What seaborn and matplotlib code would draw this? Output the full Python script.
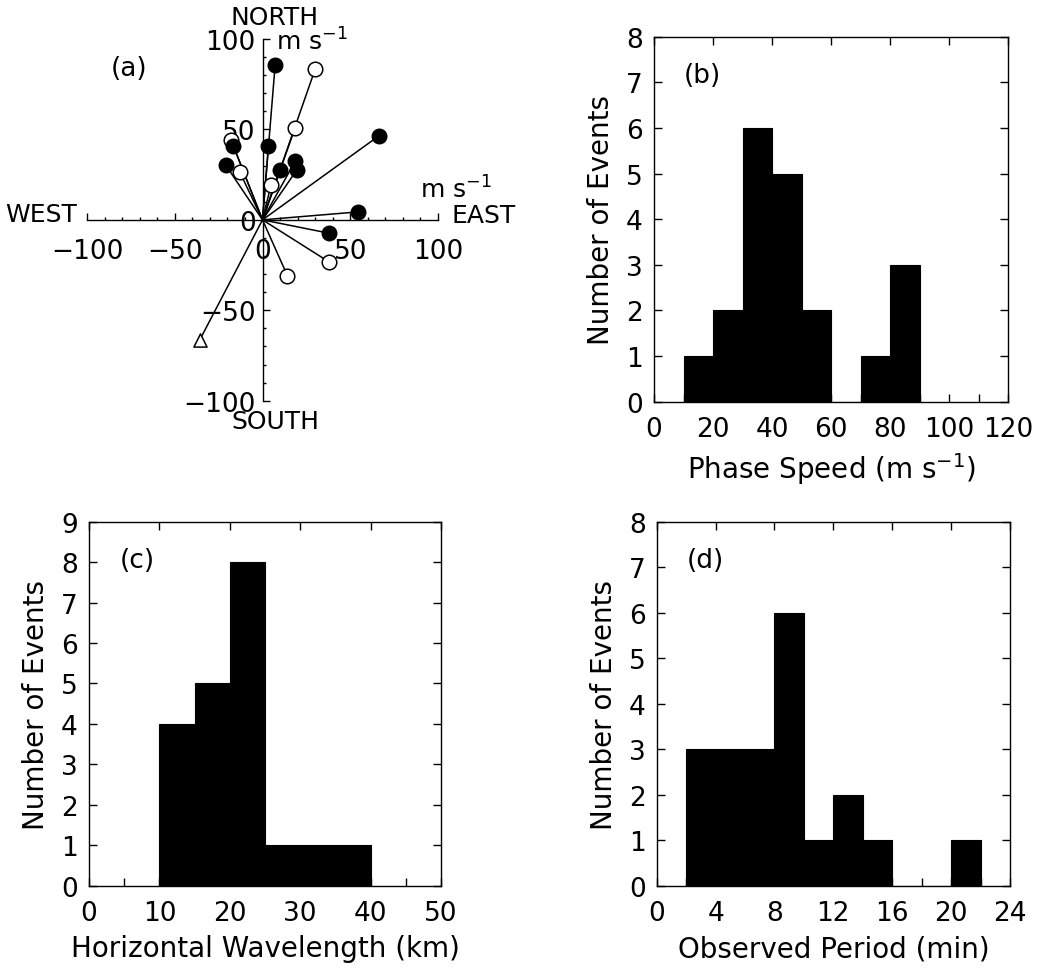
import numpy as np
import matplotlib
matplotlib.use("Agg")
import matplotlib.pyplot as plt
import seaborn as sns
from matplotlib.ticker import MultipleLocator

# panel (a): phase velocity vectors (east, north components, m/s)
filled_u = [7.2, 66.1, -16.7, 3.4, -20.9, 10.1, 18.6, 19.4, 54.5, 38.0]
filled_v = [85.6, 46.3, 41.1, 41.1, 30.2, 27.8, 32.4, 27.4, 4.4, -7.4]
open_u = [30.0, 18.6, -12.9, 4.8, 37.8, 14.2, -17.8]
open_v = [83.3, 51.0, 26.3, 19.0, -23.2, -30.9, 43.9]
tri_u = [-35.7]
tri_v = [-66.3]

# panel (b): phase speed histogram
speed_edges = [10, 20, 30, 40, 50, 60, 70, 80, 90]
speed_counts = [1, 2, 6, 5, 2, 0, 1, 3]

# panel (c): horizontal wavelength histogram
wave_edges = [10, 15, 20, 25, 30, 35, 40]
wave_counts = [4, 5, 8, 1, 1, 1]

# panel (d): observed period histogram
period_edges = [2, 4, 6, 8, 10, 12, 14, 16, 18, 20, 22]
period_counts = [3, 3, 3, 6, 1, 2, 1, 0, 0, 1]

sns.set_style("ticks")
plt.rcParams["font.family"] = ["DejaVu Sans"]
plt.rcParams["mathtext.default"] = "regular"
plt.rcParams["axes.linewidth"] = 1.0
for k in ["text.color", "axes.labelcolor", "xtick.color", "ytick.color", "axes.edgecolor"]:
    plt.rcParams[k] = "black"
TICK_FS = 19
LAB_FS = 20
TXT_FS = 18

W, H = 1038, 970
fig = plt.figure(figsize=(W / 100, H / 100), dpi=100)


def px_axes(left, right, top, bottom):
    return fig.add_axes([left / W, 1 - bottom / H, (right - left) / W, (bottom - top) / H])


# ---------- (a) vector plot ----------
ax = px_axes(87, 438, 40, 401.7)
ax.set_facecolor("white")
ax.set_xlim(-100, 100)
ax.set_ylim(-100, 100)
for s in ["top", "right"]:
    ax.spines[s].set_visible(False)
ax.spines["left"].set_position("zero")
ax.spines["bottom"].set_position("zero")
ax.set_xticks([-100, -50, 0, 50, 100])
ax.set_yticks([-100, -50, 0, 50, 100])
ax.xaxis.set_minor_locator(MultipleLocator(10))
ax.yaxis.set_minor_locator(MultipleLocator(10))
ax.tick_params(axis="both", which="major", direction="in", length=5, width=1,
               labelsize=TICK_FS)
ax.tick_params(axis="both", which="minor", direction="in", length=2.5, width=1)
ax.tick_params(axis="x", which="major", pad=13)
ax.tick_params(axis="y", which="major", pad=5)

for u, v in zip(filled_u + open_u + tri_u, filled_v + open_v + tri_v):
    ax.plot([0, u], [0, v], color="black", lw=1.1, zorder=2)

sns.scatterplot(x=open_u, y=open_v, ax=ax, marker="o", s=110, facecolor="white",
                edgecolor="black", linewidth=1.1, zorder=3)
sns.scatterplot(x=filled_u, y=filled_v, ax=ax, marker="o", s=110, color="black",
                edgecolor="black", linewidth=1, zorder=4)
sns.scatterplot(x=tri_u, y=tri_v, ax=ax, marker="^", s=90, facecolor="white",
                edgecolor="black", linewidth=1.1, zorder=3)

txt = dict(fontsize=TXT_FS, color="black", clip_on=False)
ax.text(7.1, 112.0, "NORTH", ha="center", va="center", **txt)
ax.text(7.1, -111.5, "SOUTH", ha="center", va="center", **txt)
ax.text(-105.5, 3.0, "WEST", ha="right", va="center", **txt)
ax.text(107.5, 2.5, "EAST", ha="left", va="center", **txt)
ax.text(7.8, 94.0, "m s$^{-1}$", ha="left", va="baseline", **txt)
ax.text(89.5, 12.5, "m s$^{-1}$", ha="left", va="baseline", **txt)
ax.text(-76, 84, "(a)", ha="center", va="center", fontsize=TICK_FS, clip_on=False)


# ---------- histograms ----------
def hist_panel(box, edges, counts, xmax, ymax, xmajor, xminor, xlabel, tag):
    a = px_axes(*box)
    centers = [(lo + hi) / 2 for lo, hi in zip(edges[:-1], edges[1:])]
    sns.histplot(x=centers, weights=counts, bins=edges, ax=a, color="black",
                 alpha=1, element="bars", edgecolor="black", linewidth=0.8)
    a.set_xlim(0, xmax)
    a.set_ylim(0, ymax)
    a.set_xticks(np.arange(0, xmax + 0.1, xmajor))
    a.xaxis.set_minor_locator(MultipleLocator(xminor))
    a.set_yticks(range(0, ymax + 1))
    a.tick_params(axis="both", which="major", direction="in", length=6, width=1,
                  top=True, right=True, labelsize=TICK_FS)
    a.tick_params(axis="x", which="minor", direction="in", length=6, width=1, top=False)
    a.tick_params(axis="x", which="major", pad=10)
    a.tick_params(axis="y", which="major", pad=8)
    for s in a.spines.values():
        s.set_visible(True)
        s.set_linewidth(1.0)
    a.set_xlabel(xlabel, fontsize=LAB_FS, labelpad=6)
    a.set_ylabel("Number of Events", fontsize=LAB_FS, labelpad=8)
    a.text(0.137, 0.895, tag, transform=a.transAxes, ha="center", va="center",
           fontsize=TICK_FS)
    return a


hist_panel((654, 1008, 37.7, 402.7), speed_edges, speed_counts, 120, 8, 20, 10,
           "Phase Speed (m s$^{-1}$)", "(b)")
hist_panel((89, 441, 522.7, 886.7), wave_edges, wave_counts, 50, 9, 10, 5,
           "Horizontal Wavelength (km)", "(c)")
hist_panel((656.7, 1010, 522.7, 887), period_edges, period_counts, 24, 8, 4, 2,
           "Observed Period (min)", "(d)")

fig.savefig("out.png", dpi=100, facecolor="white")
